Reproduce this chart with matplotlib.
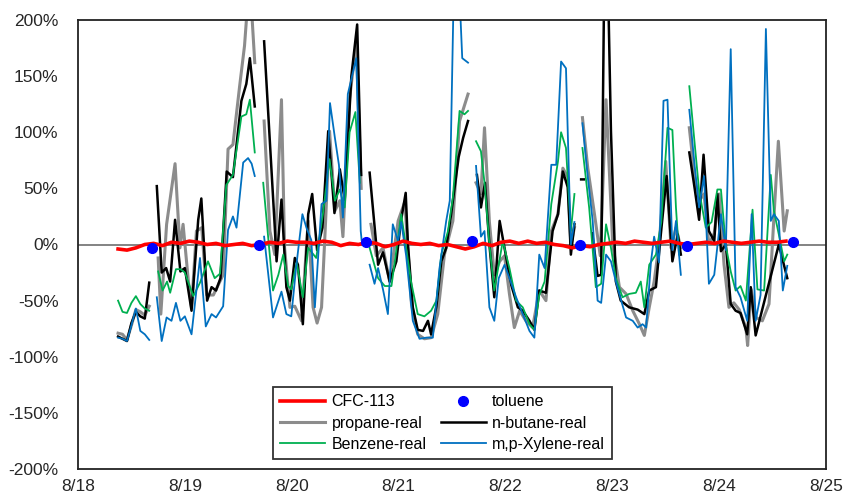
import numpy as np
import matplotlib
matplotlib.use("Agg")
import matplotlib.pyplot as plt

N = None
# ---- data: hours since 8/18 00:00, values in % ; None separates gaps ----
day_labels = ["8/18", "8/19", "8/20", "8/21", "8/22", "8/23", "8/24", "8/25"]
y_ticks = [-200, -150, -100, -50, 0, 50, 100, 150, 200]

cfc_h = list(range(9, 160, 2))
cfc_v = [-4, -5, -3, 0, 1, -1, 2, 1, 3, 2,
         0, 1, -1, 0, 1, -1, 0, 2, 1, 3,
         2, 2, 1, 3, 2, -1, 1, 0, 2, 1,
         -2, 0, 3, 1, 0, 1, -1, 0, -2, -4,
         -2, 1, -1, 2, 3, 1, 3, 1, 2, 0,
         -1, -3, -1, -2, 0, 1, 2, 1, 3, 2,
         1, 2, 3, 1, 0, 1, 2, 1, 3, 2,
         1, 2, 3, 2, 2, 3]

toluene_h = [16.7, 40.7, 64.7, 88.6, 112.7, 136.7, 160.7]
toluene_v = [-3, 0, 2.5, 3, 0, -1, 2]

propane_h = [9, 10, 11, 12, 13, 14, 15, 16, N,
             18, 18.6, 19.9, 21.8, 22.9, 23.6, 24.8, 25.5, 26.6, 27.8, 28.9, 30.4, 31.5, 32.6,
             33.7, 34.8, 36.3, 37.4, 38.1, 38.9, 39.7, N,
             41.8, 43.1, 44.2, 45.7, 46.4, 47.6, 48.7, 50.2, 51.7, 52.8, 53.7, 54.7, 55.6,
             56.5, 57.7, 58.8, 59.5, 61, 62.5, 63.6, N,
             65.8, 67, 68.5, 70, 71.9, 73.4, 74.9, 76.3, 77.8, 79.3, 80.8, 82.3, 84.2, 85.7, 87.6, N,
             89.4, 90.5, 91.3, 92.4, 93.5, 94.7, 95.8, 96.9, 98, 99.2, 100.6, 102.1, 103.6,
             105.1, 106.3, 107.8, 108.9, 110, 110.7, 111.5, N,
             113.3, 114.5, 116, 117.3, 118.6, 120.1, 121.6, 123.1, 124.6, 126.1, 127.2, 128.3,
             129.4, 130.5, 132, 133.2, 134.3, 135.4, N,
             137.3, 138.5, 139.5, 140.6, 141.7, 142.9, 144, 145.1, 146.2, 147.3, 148.5, 150,
             150.4, 151.2, 152.3, 153.7, 155.2, 156.3, 157.3, 158.6, 159.3]
propane_v = [-79, -80, -85, -72, -58, -60, -63, -55, N,
             -12, -62, 18, 72, -3, 18, -33, -56, 12, 15, -45, -45, -36, -27,
             85, 89, 141, 177, 215, 215, 162, N,
             110, 12, -9, 129, -3, -56, -55, -68, 21, -56, -70, -56, 20,
             101, 30, 39, 7, 130, 180, 50, N,
             18, -10, -3, -33, 21, 38, -53, -80, -84, -83, -62, -9, 21, 110, 134, N,
             55, 45, 104, 20, -27, -15, -10, -44, -74, -59, -68, -74, -41,
             -50, 12, 27, 68, 60, 0, 15, N,
             113, 68, 27, -10, 129, 0, -38, -44, -59, -71, -81, -56,
             -33, 0, 74, -3, 15, -3, N,
             104, 60, 39, 45, 0, 10, 45, -18, -56, -52, -58, -74,
             -90, -40, -65, -68, -53, 24, 92, 12, 30]

butane_h = [9, 10, 11, 12, 13, 14, 15, 16, N,
            17.7, 18.8, 19.8, 20.7, 21.8, 23, 24, 25.5, 27, 27.7, 29, 30, 31, 32,
            33.4, 34.8, 36.7, 37.8, 38.6, 39.7, N,
            41.8, 44.2, 44.6, 45.7, 46.8, 47.6, 48.7, 49.4, 50.5, 51.7, 52.6, 53.7, 54.9,
            56.2, 57.6, 58.8, 59.9, 61.4, 62.7, 63.6, N,
            65.5, 67.4, 68.5, 70, 71.5, 72.5, 73.6, 74.1, 75.2, 76.3, 77.5, 78.6, 79.3, 80.5,
            81.6, 82.7, 83.8, 85.5, 86.5, 87.6, N,
            89.6, 90.5, 91.4, 92.4, 93.5, 94.7, 95.8, 97.3, 98.8, 99.9, 101.4, 102.5, 103.6,
            105.1, 106.6, 107.8, 108.9, 110, 110.7, 111.5, N,
            113.0, 113.6, N,
            115.5, 116.7, 117.5, 118.2, 119, 119.7, 120.8, 121.9, 123.8, 125.7, 127.2, 128.3,
            129.8, 130.9, 132.2, 133.5, 134.7, 135.4, N,
            137.3, 138.5, 139.5, 140.5, 141.7, 142.9, 143.6, 144.4, 145.5, 146.6, 147.7, 148.8,
            150.3, 151.1, 152.2, 157.4, 159.3]
butane_v = [-82, -84, -86, -70, -60, -64, -66, -34, N,
            52, -25, -21, -33, 22, -24, -21, -59, 22, 41, -50, -38, -41, -30,
            65, 60, 128, 143, 166, 123, N,
            181, 15, -15, 40, -38, -50, -12, -18, -71, 27, 45, -5, 15,
            101, 28, 67, 40, 150, 196, 62, N,
            64, -18, -7, -33, -15, 20, 46, 0, -56, -76, -77, -68, -80, -55,
            -15, -3, 27, 78, 95, 110, N,
            62, 33, 55, 0, -47, 21, -3, -36, -56, -59, -68, -76, -41,
            -43, 12, 27, 65, 51, -9, 18, N,
            58, 58, N,
            10, -28, -27, 240, 240, 101, -33, -50, -56, -58, -62, -41,
            -38, 9, 61, -15, 9, -9, N,
            82, 50, 22, 80, 12, 3, 45, -6, 0, -53, -59, -61,
            -80, -38, -81, 0, -30]

benzene_h = [9, 10, 11, 12, 13, 14, 15, 16, N,
             18, 19, 20, 20.7, 22, 23, 24, 25.9, 27.4, 29.2, 30.7, 31.9,
             33.3, 34.8, 36.7, 37.8, 38.6, 39.7, N,
             41.6, 43.8, 45, 46.1, 47.2, 47.9, 49.1, 50.5, 51.7, 53.5, 55, 56.5, 57.7,
             58.8, 59.9, 61, 62.3, 63.3, N,
             65.5, 67.4, 68.9, 70.4, 72.6, 73.7, 74.8, 76.3, 77.8, 79.3, 80.5, 81.6, 83.1,
             84.2, 85.7, 86.8, 87.6, N,
             89.4, 90.5, 91.3, 92.4, 93.5, 95.4, 96.9, 98.4, 99.9, 101.4, 102.5, 103.6,
             104.8, 106.3, 107.8, 108.5, 109.6, 110.7, 111.5, N,
             113.3, 114.8, 116.3, 117.5, 118.6, 119.7, 120.8, 122.3, 123.8, 125.3, 126.4,
             127.2, 128.3, 129.8, 131, 132.4, 133.5, 134.3, 135, N,
             137.3, 138.5, 139.5, 141, 142.3, 143.6, 144.4, 145.5, 146.6, 147.7, 148.8, 150,
             151.5, 152.6, 154.1, 155.6, 156.3, 157.4, 158.6, 159.3]
benzene_v = [-50, -60, -61, -52, -46, -53, -57, -59, N,
             -24, -41, -33, -43, -22, -22, -25, -46, -34, -15, -30, -26,
             53, 62, 114, 116, 129, 82, N,
             55, -41, -27, -9, -37, -40, -16, -47, -3, -12, 27, 76, 39,
             49, 33, 100, 118, 55, N,
             -3, -30, -37, -37, 27, -3, -33, -62, -64, -59, -50, -9, 12,
             42, 119, 116, 119, N,
             92, 83, 55, 0, -41, 3, -21, -50, -56, -71, -76, -45,
             -33, 36, 74, 100, 86, 12, 45, N,
             86, 33, -38, -35, 18, -3, -30, -47, -44, -43, -33,
             -56, -18, -9, 20, 104, 102, 33, -9, N,
             141, 90, 48, 15, 20, 49, 49, -1, -24, -41, -37, -50,
             31, -40, -41, 62, 30, 9, -15, -9]

xylene_h = [9, 10, 11, 12, 13, 14, 15, 16, N,
            17.7, 18.8, 19.9, 21, 22, 23, 24, 25.5, 27.4, 28.7, 30, 31, 32.6,
            33.7, 34.8, 35.6, 37.1, 38.2, 39, 39.7, N,
            41.8, 43.8, 45.7, 46.8, 47.9, 49, 50.4, 51.3, 52.4, 53.2, 54.7, 55.8, 56.6,
            57.7, 58.6, 59.5, 60.6, 62.5, 63.5, 63.7, N,
            65.5, 66.6, 67.4, 68.5, 69.6, 70.7, 71.9, 72.6, 73.7, 75.2, 76.7, 78.2, 79.7,
            81.2, 82.7, 83.5, 84.5, 85.5, 86.3, 87.6, N,
            89.4, 90.5, 91.3, 92.4, 93.5, 94.5, 95.8, 96.9, 98.4, 99.9, 101.4, 102.5, 103.6,
            104.8, 106.3, 107.4, 108.5, 109.6, 110.7, 111.5, N,
            113.3, 114.5, 115.6, 116.7, 117.5, 118.6, 119.7, 120.8, 122, 123.1, 124.6, 125.7,
            126.8, 127.6, 128.7, 129.4, 130.5, 131.5, 132.4, 133.5, 134.3, 135.4, N,
            137.3, 138.5, 139.5, 140.6, 141.7, 142.9, 144.4, 145.5, 146.6, 147.7, 148.8, 150.3,
            151.3, 152.2, 153.3, 154.5, 155.6, 156.3, 157.4, 158.3, 159.3]
xylene_v = [-83, -84, -86, -72, -57, -77, -80, -85, N,
            -47, -86, -65, -68, -52, -68, -64, -80, -12, -73, -62, -65, -55,
            13, 25, 15, 73, 77, 72, 61, N,
            7, -65, -42, -62, -64, -20, 27, 15, 4, -56, 36, 39, 126,
            95, 71, 24, 134, 166, 12, 4, N,
            -18, -35, -21, -40, -62, 18, 3, 20, -10, -68, -84, -83, -83,
            -21, 21, 39, 250, 240, 166, 162, N,
            70, 7, 12, -56, -68, -30, -18, -30, -47, -62, -77, -83, -9,
            -21, 71, 71, 163, 157, 0, 20, N,
            108, 60, 21, -50, -52, -9, -15, -33, -50, -65, -68, -74,
            -71, -74, -15, 7, -16, 128, 129, -5, 21, -27, N,
            120, 70, 33, 61, -35, -27, 27, -5, 174, -38, -47, -68,
            27, -68, -45, 192, 21, 27, 21, -41, -19]


def arr(a):
    return np.array([np.nan if v is None else v for v in a], dtype=float)


plt.rcParams['font.family'] = ['Liberation Sans', 'DejaVu Sans']
fig = plt.figure(figsize=(8.45, 5.01), dpi=100)
ax = fig.add_axes([78 / 845, 32 / 501, 748 / 845, 449 / 501])

ax.axhline(0, color='#6e6e6e', lw=1.2, zorder=1)

l_cfc, = ax.plot(arr(cfc_h), arr(cfc_v), color='#ff0000', lw=2.6, label='CFC-113', zorder=3)
l_tol, = ax.plot(arr(toluene_h), arr(toluene_v), ls='none', marker='o', ms=7, color='#0000ff',
                 label='toluene', zorder=6)
l_pro, = ax.plot(arr(propane_h), arr(propane_v), color='#8c8c8c', lw=2.2, label='propane-real', zorder=2)
l_but, = ax.plot(arr(butane_h), arr(butane_v), color='#000000', lw=1.8, label='n-butane-real', zorder=2)
l_ben, = ax.plot(arr(benzene_h), arr(benzene_v), color='#00b050', lw=1.3, label='Benzene-real', zorder=2)
l_xyl, = ax.plot(arr(xylene_h), arr(xylene_v), color='#0070c0', lw=1.3, label='m,p-Xylene-real', zorder=2)

ax.set_xlim(0, 168)
ax.set_ylim(-200, 200)
ax.set_xticks([24 * i for i in range(len(day_labels))])
ax.set_xticklabels(day_labels)
ax.set_yticks(y_ticks)
ax.set_yticklabels([f"{t}%" for t in y_ticks])
ax.tick_params(axis='both', length=0, labelsize=12.5, colors='#262626')
ax.tick_params(axis='y', pad=14)
ax.tick_params(axis='x', pad=7)
for s in ax.spines.values():
    s.set_linewidth(1.3)
    s.set_color('#222222')

handles = [l_cfc, l_pro, l_ben, l_tol, l_but, l_xyl]
leg = ax.legend(handles=handles, labels=[h.get_label() for h in handles], ncol=2,
                loc='lower left', bbox_to_anchor=(0.261, 0.022), borderaxespad=0,
                fontsize=11.5, frameon=True, fancybox=False, numpoints=1,
                edgecolor='black', handlelength=2.8, borderpad=0.45, labelspacing=0.4,
                handletextpad=0.4, columnspacing=0.9)
leg.get_frame().set_linewidth(1.3)

fig.savefig('out.png', dpi=100)
